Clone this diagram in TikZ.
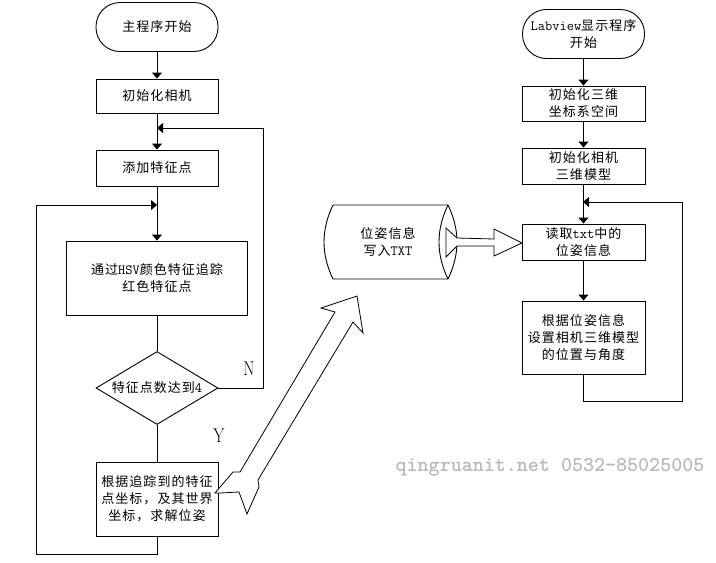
\documentclass[tikz,border=0pt]{standalone}
\usepackage{fontspec}
\newfontfamily\cjk{Noto Sans CJK SC}[LetterSpace=8]
\newfontfamily\lat{Latin Modern Mono}[Scale=1.08]
\usetikzlibrary{arrows.meta,shapes.geometric}
\begin{document}
\begin{tikzpicture}[x=1pt,y=-1pt,line width=0.9pt,every node/.style={font=\cjk\fontsize{13}{17}\selectfont,align=center}]
  \tikzstyle{box_style} = [draw=black,fill=white,rectangle,minimum width=122pt,inner sep=0pt]
  \tikzstyle{term_style} = [box_style,rounded corners=24pt,minimum height=49pt]
  \tikzstyle{edge_style} = [draw=black,-{Triangle[length=6pt,width=10pt]}]
  \tikzstyle{line_style} = [draw=black]
  \tikzstyle{block_style} = [draw=black,fill=white,line join=miter,line width=0.8pt]
  \tikzstyle{mark_style} = [font=\rmfamily\fontsize{20}{20}\selectfont,xscale=0.8]
  \useasboundingbox (0,0) rectangle (716,563);

  % left column
  \node[term_style]					(A) at (157,27)       {主程序开始};
  \node[box_style,minimum height=34pt,below of=A,node distance=69pt]	(B) {初始化相机};
  \node[box_style,minimum height=36pt,below of=B,node distance=72pt]	(C) {添加特征点};
  \node[box_style,minimum width=181pt,minimum height=74pt,below of=C,node distance=110pt]	(D) {通过{\lat HSV}颜色特征追踪\\红色特征点};
  \node[draw=black,fill=white,diamond,aspect=1.67,minimum width=122pt,minimum height=73pt,inner sep=0pt,below of=D,node distance=110pt]	(E) {特征点数达到{\lat 4}};
  \node[box_style,minimum height=74pt,below of=E,node distance=111pt]	(F) {根据追踪到的特征\\点坐标，及其世界\\坐标，求解位姿};

  % right column
  \node[term_style]					(G) at (583.5,34)     {{\lat Labview}显示程序\\开始};
  \node[box_style,minimum height=35pt,minimum width=123pt,below of=G,node distance=69.5pt]	(H) {初始化三维\\坐标系空间};
  \node[box_style,minimum height=36pt,minimum width=123pt,below of=H,node distance=62.5pt]	(I) {初始化相机\\三维模型};
  \node[box_style,minimum height=36pt,minimum width=123pt,below of=I,node distance=76pt]	(J) {读取{\lat txt}中的\\位姿信息};
  \node[box_style,minimum height=73pt,minimum width=123pt,below of=J,node distance=95.5pt]	(K) {根据位姿信息\\设置相机三维模型\\的位置与角度};

  % junctions
  \coordinate (L1) at (157,128);
  \coordinate (L2) at (157,205);
  \coordinate (L3) at (583,202);

  \path
		(A) edge [edge_style]            (B)
        (B) edge [edge_style]            (C)
        (C) edge [edge_style]            (D)
        (D) edge [line_style]            (E)
        (E) edge [line_style]            (F)
        (G) edge [edge_style]            (H)
        (H) edge [edge_style]            (I)
        (I) edge [edge_style]            (J)
        (J) edge [edge_style]            (K);

  % loops
  \draw[edge_style] (E.east) -- (263,388) -- (263,128) -- (L1);
  \draw[edge_style] (F.south) -- (157,554) -- (36,554) -- (36,205) -- (L2);
  \draw[edge_style] (K.south -| L3) -- (583,401) -- (682,401) -- (682,202) -- (L3);

  % cylinder
  \draw[line_style,fill=white] (333,205) -- (448,205) .. controls (460,230) and (460,254) .. (448,279)
        -- (333,279) .. controls (321,254) and (321,230) .. (333,205);
  \draw[line_style] (448,205) .. controls (436,230) and (436,254) .. (448,279);
  \node (M) at (388,242) {位姿信息\\写入{\lat TXT}};

  % block arrows
  \draw[block_style] (215,493) -- (233,472) -- (240,472) -- (335,312) -- (321,308) -- (357,296)
        -- (363,333) -- (353,322) -- (258,480) -- (259,487) -- (247,514) -- (239,492) -- (220,493) -- cycle;
  \draw[block_style] (446,228) -- (457,238) -- (494,239) -- (494,229) -- (522,243) -- (494,256)
        -- (494,246) -- (457,246) -- (446,257) -- cycle;

  \node[mark_style] (N) at (249,369) {N};
  \node[mark_style] (Y) at (219,436) {Y};
  \node[font=\ttfamily\bfseries\fontsize{21}{21}\selectfont,text=black!28] (W) at (550,467) {qingruanit.net 0532-85025005};
\end{tikzpicture}
\end{document}
